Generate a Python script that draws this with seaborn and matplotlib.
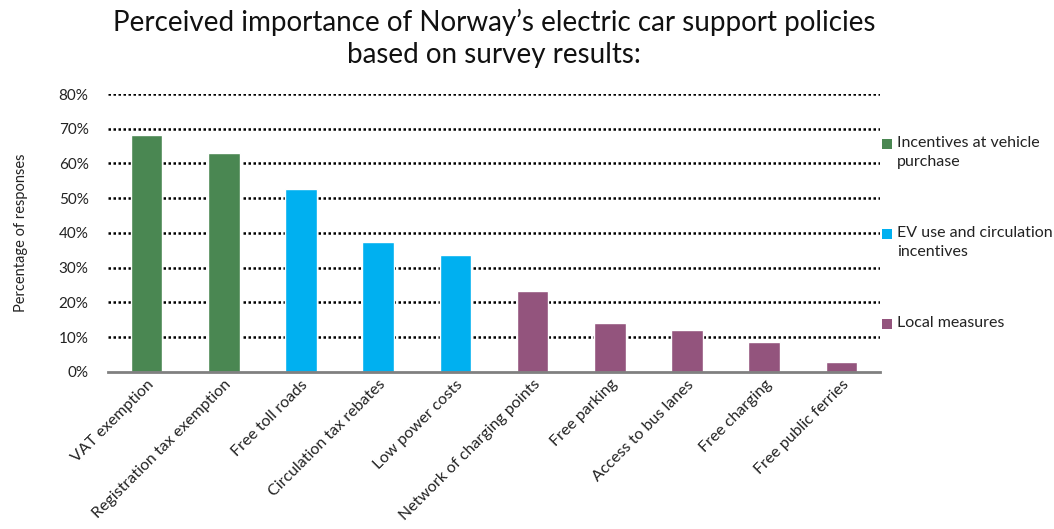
import matplotlib
matplotlib.use("Agg")
import matplotlib.pyplot as plt
from matplotlib.patches import Rectangle
from matplotlib.ticker import PercentFormatter
import pandas as pd
import seaborn as sns

policies = [
    "VAT exemption", "Registration tax exemption", "Free toll roads",
    "Circulation tax rebates", "Low power costs", "Network of charging points",
    "Free parking", "Access to bus lanes", "Free charging", "Free public ferries",
]
shares = [0.682, 0.630, 0.527, 0.374, 0.337, 0.233, 0.141, 0.121, 0.086, 0.029]
groups = [
    "Incentives at vehicle purchase", "Incentives at vehicle purchase",
    "EV use and circulation incentives", "EV use and circulation incentives",
    "EV use and circulation incentives",
    "Local measures", "Local measures", "Local measures", "Local measures",
    "Local measures",
]
group_names = ["Incentives at vehicle purchase",
               "EV use and circulation incentives",
               "Local measures"]
legend_labels = ["Incentives at vehicle\npurchase",
                 "EV use and circulation\nincentives",
                 "Local measures"]
group_colors = ["#4A8752", "#00B0F0", "#93547D"]
y_ticks = [0, 0.1, 0.2, 0.3, 0.4, 0.5, 0.6, 0.7, 0.8]

df = pd.DataFrame({"policy": policies, "share": shares, "group": groups})

sns.set_theme(style="white")
plt.rcParams["font.family"] = ["Lato", "DejaVu Sans"]

fig = plt.figure(figsize=(10.54, 5.29), dpi=100)
ax = fig.add_axes([0.1025, 0.297, 0.7325, 0.5253])

sns.barplot(data=df, x="policy", y="share", hue="group",
            hue_order=group_names, palette=group_colors,
            dodge=False, width=0.41, legend=False, saturation=1, ax=ax)

ax.set_ylim(0, 0.8)
ax.set_xlim(-0.5, len(policies) - 0.5)
ax.set_yticks(y_ticks)
ax.yaxis.set_major_formatter(PercentFormatter(1.0, decimals=0))
for y in y_ticks[1:]:
    ax.axhline(y, color="black", lw=1.8, ls=(0, (1, 1)), zorder=0)

for side in ["top", "right", "left"]:
    ax.spines[side].set_visible(False)
ax.spines["bottom"].set_color("#808080")
ax.spines["bottom"].set_linewidth(2)
ax.tick_params(axis="both", length=0)
ax.tick_params(axis="y", labelsize=11, colors="#222222", pad=14)
ax.tick_params(axis="x", labelsize=11.5, colors="#222222", pad=4)
plt.setp(ax.get_xticklabels(), rotation=45, ha="right",
         rotation_mode="anchor")

ax.set_xlabel("")
ax.set_ylabel("Percentage of responses", fontsize=10.5, color="#222222",
              labelpad=22)
ax.set_title("Perceived importance of Norway\u2019s electric car support policies\n"
             "based on survey results:", fontsize=20, color="#111111",
             pad=22, linespacing=1.3)

# Legend: colour swatch aligned with the first text line of each entry
entry_y = [143, 233, 323]
for label, color, yp in zip(legend_labels, group_colors, entry_y):
    fy = 1 - yp / 529
    fig.patches.append(Rectangle((882 / 1054, fy - 6 / 529), 10 / 1054,
                                 10 / 529, transform=fig.transFigure,
                                 facecolor=color, edgecolor="none"))
    fig.text(897 / 1054, fy + 7 / 529, label, fontsize=11.5,
             color="#222222", va="top", ha="left", linespacing=1.45)

fig.savefig("out.png", dpi=100)
